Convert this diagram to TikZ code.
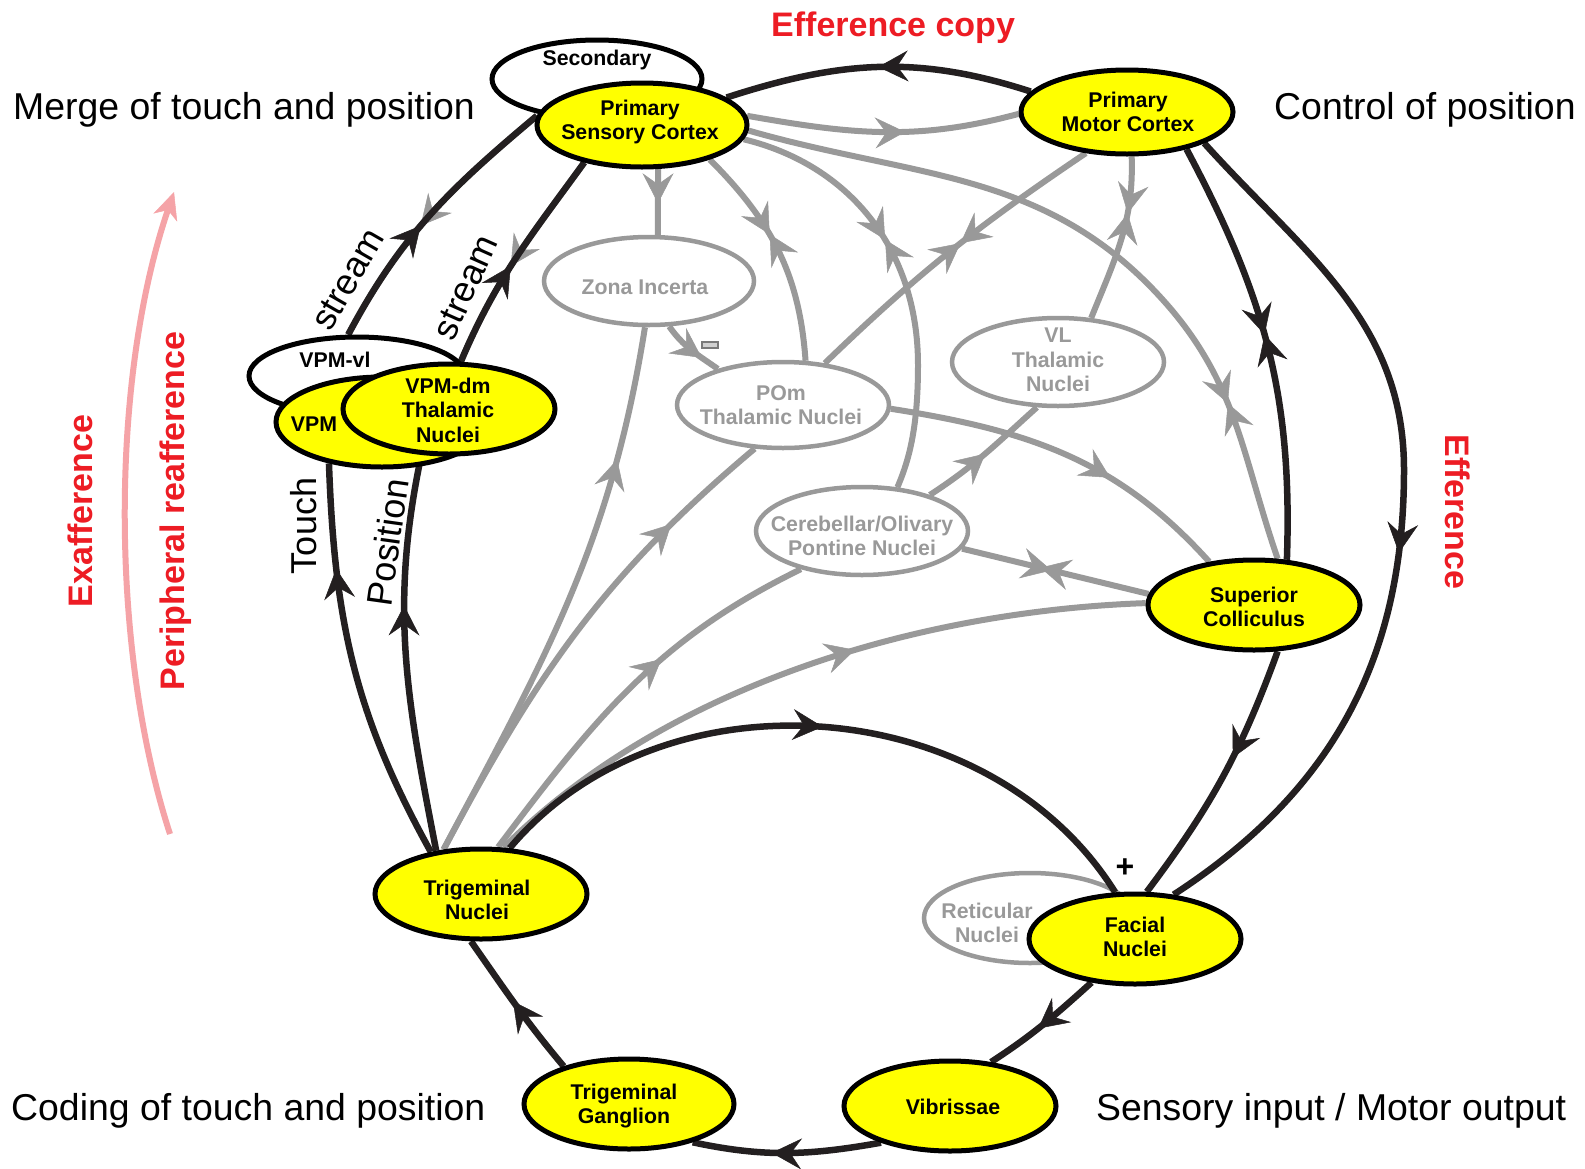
\documentclass[tikz,border=0pt]{standalone}
\usepackage{fontspec}
\setmainfont{Liberation Sans}
\usetikzlibrary{shapes.geometric,arrows.meta,decorations.markings,backgrounds}
\definecolor{yel}{HTML}{FFFF00}
\definecolor{gr}{HTML}{999999}
\definecolor{blk}{HTML}{231F20}
\definecolor{rd}{HTML}{ED1C24}
\definecolor{pnk}{HTML}{F5A3A7}
\pgfdeclarelayer{bottom}
\pgfsetlayers{bottom,background,main}
\tikzset{
  htip/.tip={Stealth[length=30pt,width=31pt,inset=11pt,line width=0.5pt]},
  fwd/.style={postaction={decorate,decoration={markings,mark=at position #1 with {\arrow{htip}}}}},
  bwd/.style={postaction={decorate,decoration={markings,mark=at position #1 with {\arrowreversed{htip}}}}},
  bline/.style={color=blk,line width=6.5pt},
  gline/.style={color=gr,line width=6pt},
  yelnode/.style={ellipse,inner sep=0pt,line width=5pt,draw=black,fill=yel},
  whnode/.style={ellipse,inner sep=0pt,line width=5pt,draw=black,fill=white},
  grnode/.style={ellipse,inner sep=0pt,line width=4.5pt,draw=gr,fill=white},
  ytxt/.style={align=center,font=\fontsize{21.3}{24.5}\selectfont\bfseries,text=black,inner sep=0pt},
  gtxt/.style={ytxt,text=gr},
  big/.style={font=\fontsize{37.4}{44}\selectfont,inner sep=0pt},
  redlbl/.style={font=\fontsize{34}{40}\selectfont\bfseries,text=rd,inner sep=0pt},
  lbl/.style={font=\fontsize{36}{42}\selectfont,inner sep=0pt},
}
\begin{document}
\begin{tikzpicture}[x=1pt,y=-1pt]
\useasboundingbox (0,0) rectangle (1585,1168);
\begin{pgfonlayer}{bottom}
\fill[white] (0,0) rectangle (1585,1168);
\node[grnode,fill=none,minimum width=212pt,minimum height=90pt] (ret) at (1030,918) {};
\end{pgfonlayer}

% nodes
\node[whnode,minimum width=210pt,minimum height=78pt] (sec) at (597,79) {};
\node[yelnode,minimum width=210pt,minimum height=84pt] (psc) at (642,125) {};
\node[yelnode,minimum width=212pt,minimum height=84pt] (pmc) at (1127,112) {};
\node[whnode,minimum width=216pt,minimum height=78pt] (vplv) at (357,376) {};
\node[yelnode,minimum width=212pt,minimum height=90pt] (vpm) at (382,422) {};
\node[yelnode,minimum width=212pt,minimum height=90pt] (vpmdm) at (449,409) {};
\node[grnode,minimum width=210pt,minimum height=88pt] (zi) at (649,281) {};
\node[grnode,minimum width=212pt,minimum height=86pt] (pom) at (783,405) {};
\node[grnode,minimum width=212pt,minimum height=88pt] (vl) at (1058,362) {};
\node[grnode,minimum width=212pt,minimum height=88pt] (cer) at (862,531) {};
\node[yelnode,minimum width=212pt,minimum height=90pt] (sc) at (1254,605) {};
\node[yelnode,minimum width=212pt,minimum height=90pt] (tn) at (481,894) {};
\node[yelnode,minimum width=212pt,minimum height=90pt] (fn) at (1135,939) {};
\node[yelnode,minimum width=210pt,minimum height=90pt] (tg) at (629,1104) {};
\node[yelnode,minimum width=212pt,minimum height=90pt] (vib) at (950,1106) {};

% node texts
\node[ytxt] (sect) at (597,60) {Secondary};
\node[ytxt] (psct) at (640,122) {Primary\\Sensory Cortex};
\node[ytxt] (pmct) at (1128,112) {Primary\\Motor Cortex};
\node[ytxt] (vplvt) at (335,360) {VPM-vl};
\node[ytxt] (vpmt) at (314,424) {VPM};
\node[ytxt] (vpmdmt) at (448,410) {VPM-dm\\Thalamic\\Nuclei};
\node[gtxt] (zit) at (645,287) {Zona Incerta};
\node[gtxt] (pomt) at (781,405) {POm\\Thalamic Nuclei};
\node[gtxt] (vlt) at (1058,360) {VL\\Thalamic\\Nuclei};
\node[gtxt] (cert) at (862,536) {Cerebellar/Olivary\\Pontine Nuclei};
\node[ytxt] (sct) at (1254,607) {Superior\\Colliculus};
\node[ytxt] (tnt) at (477,900) {Trigeminal\\Nuclei};
\node[gtxt] (rett) at (987,923) {Reticular\\Nuclei};
\node[ytxt] (fnt) at (1135,937) {Facial\\Nuclei};
\node[ytxt] (tgt) at (624,1106) {Trigeminal\\Ganglion};
\node[ytxt] (vibt) at (953,1107) {Vibrissae};

% free labels
\node[big,anchor=base west] (merge) at (13,119) {Merge of touch and position};
\node[big,anchor=base west] (ctrl) at (1274,119) {Control of position};
\node[big,anchor=base west] (coding) at (11,1120) {Coding of touch and position};
\node[big,anchor=base west] (sens) at (1096,1120) {Sensory input / Motor output};
\node[redlbl,anchor=base west] (effc) at (771,36) {Efference copy};
\node[redlbl,rotate=90,anchor=base] (exaf) at (92,511) {Exafference};
\node[redlbl,rotate=90,anchor=base] (peri) at (184,511) {Peripheral reafference};
\node[redlbl,rotate=-90,anchor=base] (eff) at (1445,512) {Efference};
\node[lbl,rotate=60,anchor=base] (st1) at (358,285) {stream};
\node[lbl,rotate=66,anchor=base] (st2) at (476,292) {stream};
\node[lbl,rotate=90,anchor=base] (touch) at (316,526) {Touch};
\node[lbl,rotate=82,anchor=base] (posl) at (400,544) {Position};
\node[font=\fontsize{32}{36}\selectfont\bfseries,inner sep=0pt] (plus) at (1125,868) {+};
\node[rectangle,draw=gr!80!black,fill=gr!45,line width=1.2pt,minimum width=16pt,minimum height=6pt,inner sep=0pt] (minus) at (710,345) {};

% pink arrow
\coordinate (pa) at (170,834);
\coordinate (pb) at (174,192);
\draw[color=pnk,line width=6pt,-{Stealth[length=27pt,width=25pt,inset=8pt,line width=0.5pt]}] (pa) .. controls (110,650) and (110,380) .. (pb);

\begin{pgfonlayer}{background}
% gray connectors
\draw[gline,fwd=0.58] (psc.5) to[out=-10,in=195] (pmc.181);
\draw[gline,fwd=0.52] (psc.-70) -- (zi.79);
\draw[gline,fwd=0.42,bwd=0.42] (psc.333) to[out=-45,in=94] (pom.63);
\draw[gline,fwd=0.41,bwd=0.41] (psc.-8) .. controls (850,165) and (918,250) .. (918,365) .. controls (918,425) and (910,458) .. (cer.51);
\draw[gline,fwd=0.78,bwd=0.78] (psc.-3) to[out=-16,in=132] (1163,300) to[out=-48,in=109] (sc.63);
\draw[gline,fwd=0.46,bwd=0.46] (pmc.225) to[out=214,in=44] (pom.45);
\draw[gline,fwd=0.34,bwd=0.34] (pmc.-84) to[out=-88,in=68] (vl.53);
\draw[gline,fwd=0.76] (tn.130) to[out=62,in=261] (zi.265);
\draw[gline,fwd=0.7] (zi.-66) to[out=-55,in=145] (pom.151);
\draw[gline,fwd=0.78] (tn.130) to[out=62,in=220] (pom.237);
\draw[gline,fwd=0.6] (tn.70) to[out=53,in=206] (cer.212);
\draw[gline,fwd=0.58] (tn.64) to[out=45,in=182,looseness=0.85] (sc.179);
\draw[gline,fwd=0.48,bwd=0.42] (cer.-10) -- (sc.174);
\draw[gline,fwd=0.5] (cer.28.5) to[out=33,in=222] (vl.245.5);
\draw[gline,fwd=0.64] (pom.-2) to[out=-9,in=132] (sc.136);
\draw[gline,bwd=0.45] (vplv.102) to[out=62,in=220] (psc.175);
\draw[gline,bwd=0.46] (vpmdm.76) to[out=67,in=234] (psc.213.5);
% black connectors
\draw[bline,fwd=0.5] (pmc.168) to[out=162,in=18] (psc.18);
\draw[bline,fwd=0.45] (vplv.102) to[out=62,in=220] (psc.175);
\draw[bline,fwd=0.46] (vpmdm.76) to[out=67,in=234] (psc.213.5);
\draw[bline,fwd=0.74] (tn.140) to[out=119,in=272] (vpm.218);
\draw[bline,fwd=0.62] (tn.136) to[out=101,in=258] (vpmdm.239);
\draw[bline,fwd=0.5] (tn.58) to[out=50,in=122] (fn.113.5);
\draw[bline,fwd=0.53] (tg.150) to[out=130,in=305] (tn.258);
\draw[bline,fwd=0.58] (vib.208) to[out=190,in=348] (tg.329);
\draw[bline,fwd=0.55] (fn.225.6) to[out=222,in=33] (vib.47);
\draw[bline,fwd=0.47,bwd=0.47] (pmc.328) to[out=-62,in=88] (sc.54);
\draw[bline,fwd=0.53] (pmc.338) to[out=-48,in=90] (1404,470) to[out=-90,in=33] (fn.49);
\draw[bline,fwd=0.42] (sc.297) to[out=250,in=53] (fn.76);
\end{pgfonlayer}
\end{tikzpicture}
\end{document}
